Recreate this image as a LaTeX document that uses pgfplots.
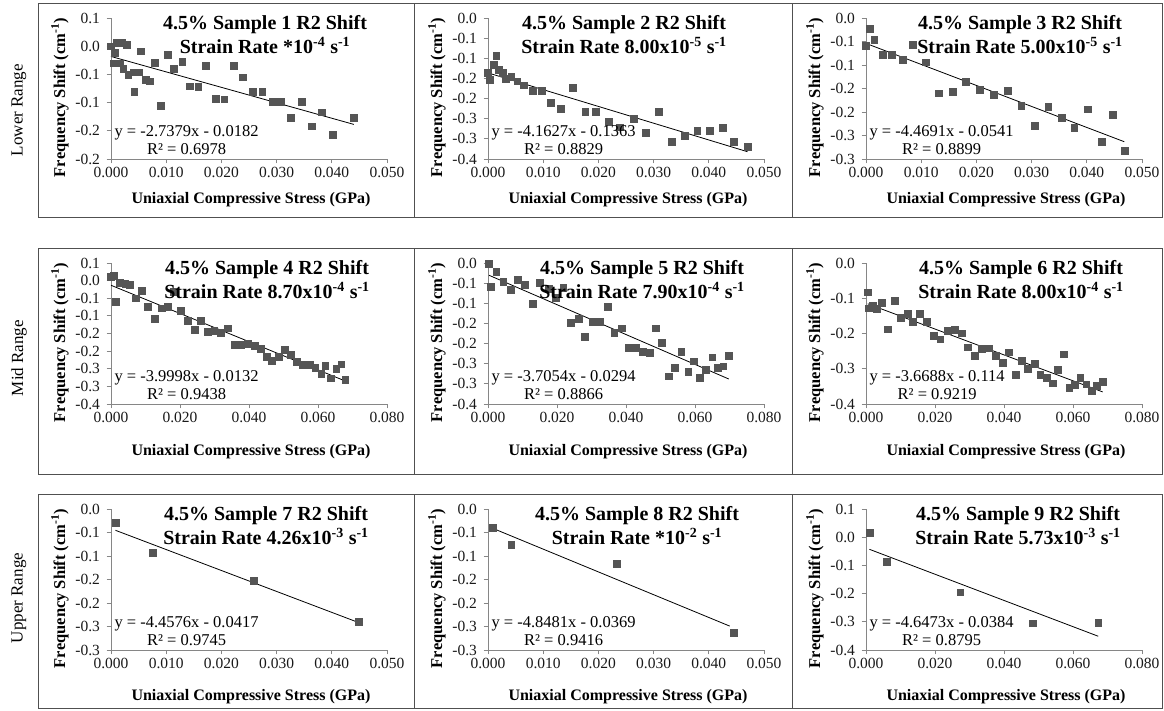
\documentclass[border=0pt]{standalone}
\usepackage{pgfplots}
\pgfplotsset{compat=1.18}
\usepackage{fontspec}
\setmainfont{Liberation Serif}
\definecolor{mk}{RGB}{85,85,85}
\definecolor{ax}{RGB}{134,134,134}
\definecolor{bd}{RGB}{80,80,80}
\newcommand{\fs}[2]{\fontsize{#1}{#2}\selectfont}
\pgfplotsset{
  panel/.style={
    at={(0pt,0pt)}, anchor=south west, scale only axis, width=276pt, height=141pt,
    axis lines=left, axis line style={-, draw=ax, line width=0.9pt},
    tick align=outside, major tick length=4.5pt, tick style={draw=ax, line width=0.9pt},
    clip=false, scaled ticks=false,
    ticklabel style={font=\fs{15.5}{17}, text=black!90},
    yticklabel style={xshift=-3pt},
    /pgf/number format/assume math mode=true,
  },
  x5/.style={xmin=0, xmax=0.05, xtick={0,0.01,0.02,0.03,0.04,0.05}, xticklabels={0.000,0.010,0.020,0.030,0.040,0.050}},
  x8/.style={xmin=0, xmax=0.08, xtick={0,0.02,0.04,0.06,0.08}, xticklabels={0.000,0.020,0.040,0.060,0.080}},
  pts/.style={only marks, mark=square*, mark size=3.4pt, mark options={draw=mk, fill=mk}},
  trend/.style={black, line width=0.8pt, no marks},
}
\newcommand{\deco}[6]{%
  \node[font=\bfseries\fs{20}{24}, align=center] at (#1,124) {4.5\% Sample #2 R2 Shift\\Strain Rate #3};
  \node[anchor=west, align=center, font=\fs{16.5}{18}] at (0,19) {#4\\R² = #5};
  \node[font=\bfseries\fs{16}{18}] at (140,#6) {Uniaxial Compressive Stress (GPa)};
  \node[font=\bfseries\fs{16.5}{18}, rotate=90] at (-51,61.5) {Frequency Shift (cm\textsuperscript{-1})};
}
\begin{document}
\begin{tikzpicture}[x=1pt,y=1pt]
\path[use as bounding box] (0,0) rectangle (1164,711);
% panel frames
\draw[bd, line width=1pt] (38,493) rectangle (1162,707) (414,493)--(414,707) (792,493)--(792,707);
\draw[bd, line width=1pt] (38,236) rectangle (1162,462) (414,236)--(414,462) (792,236)--(792,462);
\draw[bd, line width=1pt] (38,2) rectangle (1162,216) (414,2)--(414,216) (792,2)--(792,216);
\node[rotate=90, font=\fs{17}{18}] at (19,601) {Lower Range};
\node[rotate=90, font=\fs{17}{18}] at (19,353) {Mid Range};
\node[rotate=90, font=\fs{17}{18}] at (19,113) {Upper Range};

% ---------- Panel 1
\begin{scope}[shift={(111,552)}]
\begin{axis}[panel, x5, ymin=-0.2, ymax=0.05, ytick={-0.2,-0.15,-0.1,-0.05,0,0.05}, yticklabels={-0.2,-0.2,-0.1,-0.1,0.0,0.1}]
\addplot[pts] coordinates {(0,0.0) (0.0004,-0.030) (0.001,-0.030) (0.0011,0.0057) (0.0007,-0.012) (0.0019,0.0057) (0.0028,0.003) (0.0016,-0.030) (0.0022,-0.040) (0.0031,-0.050) (0.0042,-0.081) (0.0041,-0.046) (0.005,-0.046) (0.0054,-0.009) (0.0063,-0.059) (0.007,-0.062) (0.0079,-0.029) (0.009,-0.105) (0.0102,-0.015) (0.0114,-0.040) (0.0129,-0.027) (0.0142,-0.071) (0.0158,-0.072) (0.0172,-0.035) (0.0189,-0.093) (0.0205,-0.094) (0.0222,-0.035) (0.0238,-0.055) (0.0256,-0.081) (0.0274,-0.081) (0.0293,-0.099) (0.0308,-0.099) (0.0326,-0.127) (0.0345,-0.099) (0.0363,-0.142) (0.0381,-0.117) (0.0401,-0.157) (0.044,-0.127)};
\addplot[trend] coordinates {(0,-0.0182) (0.044,-0.1387)};
\end{axis}
\deco{154}{1}{*10\textsuperscript{-4} s\textsuperscript{-1}}{y = -2.7379x - 0.0182}{0.6978}{-41}
\end{scope}

% ---------- Panel 2
\begin{scope}[shift={(488,552)}]
\begin{axis}[panel, x5, ymin=-0.35, ymax=0, ytick={-0.35,-0.3,-0.25,-0.2,-0.15,-0.1,-0.05,0}, yticklabels={-0.4,-0.3,-0.3,-0.2,-0.2,-0.1,-0.1,0.0}]
\addplot[pts] coordinates {(0,-0.135) (0.0003,-0.153) (0.001,-0.116) (0.0015,-0.093) (0.002,-0.128) (0.0026,-0.135) (0.0032,-0.151) (0.0042,-0.145) (0.0053,-0.157) (0.0065,-0.167) (0.0081,-0.180) (0.0097,-0.180) (0.0113,-0.211) (0.0132,-0.226) (0.0153,-0.174) (0.0176,-0.232) (0.0195,-0.233) (0.0218,-0.258) (0.0239,-0.271) (0.0264,-0.250) (0.0286,-0.285) (0.0309,-0.233) (0.0333,-0.308) (0.0356,-0.292) (0.0379,-0.280) (0.0402,-0.280) (0.0425,-0.273) (0.0445,-0.308) (0.047,-0.320)};
\addplot[trend] coordinates {(0,-0.1363) (0.047,-0.3319)};
\end{axis}
\deco{136}{2}{8.00x10\textsuperscript{-5} s\textsuperscript{-1}}{y = -4.1627x - 0.1363}{0.8829}{-41}
\end{scope}

% ---------- Panel 3
\begin{scope}[shift={(866,552)}]
\begin{axis}[panel, x5, ymin=-0.3, ymax=0, ytick={-0.3,-0.25,-0.2,-0.15,-0.1,-0.05,0}, yticklabels={-0.3,-0.3,-0.2,-0.2,-0.1,-0.1,0.0}]
\addplot[pts] coordinates {(0,-0.059) (0.0006,-0.023) (0.0015,-0.046) (0.003,-0.078) (0.0047,-0.078) (0.0066,-0.089) (0.0085,-0.057) (0.0108,-0.094) (0.0132,-0.160) (0.0157,-0.157) (0.0181,-0.136) (0.0206,-0.152) (0.0232,-0.163) (0.0256,-0.154) (0.0281,-0.187) (0.0306,-0.229) (0.033,-0.189) (0.0354,-0.213) (0.0377,-0.234) (0.0401,-0.194) (0.0427,-0.264) (0.0447,-0.206) (0.0468,-0.282)};
\addplot[trend] coordinates {(0,-0.0541) (0.0468,-0.2633)};
\end{axis}
\deco{154}{3}{5.00x10\textsuperscript{-5} s\textsuperscript{-1}}{y = -4.4691x - 0.0541}{0.8899}{-41}
\end{scope}

% ---------- Panel 4
\begin{scope}[shift={(111,307)}]
\begin{axis}[panel, x8, ymin=-0.35, ymax=0.05, ytick={-0.35,-0.3,-0.25,-0.2,-0.15,-0.1,-0.05,0,0.05}, yticklabels={-0.4,-0.3,-0.3,-0.2,-0.2,-0.1,-0.1,0.0,0.1}]
\addplot[pts] coordinates {(0,0.010) (0.0007,0.014) (0.0014,-0.059) (0.0026,-0.007) (0.0041,-0.009) (0.0055,-0.012) (0.0072,-0.050) (0.0089,-0.029) (0.0106,-0.073) (0.0126,-0.108) (0.0147,-0.078) (0.0164,-0.073) (0.0181,-0.032) (0.0202,-0.085) (0.0222,-0.113) (0.0242,-0.140) (0.026,-0.113) (0.028,-0.144) (0.0299,-0.141) (0.0318,-0.147) (0.0338,-0.135) (0.0358,-0.182) (0.0377,-0.182) (0.0397,-0.179) (0.0416,-0.184) (0.0435,-0.194) (0.0452,-0.215) (0.0466,-0.227) (0.0486,-0.215) (0.0503,-0.195) (0.0521,-0.211) (0.0539,-0.230) (0.0556,-0.239) (0.0575,-0.239) (0.0592,-0.247) (0.0609,-0.263) (0.0621,-0.242) (0.0636,-0.277) (0.0653,-0.250) (0.0667,-0.237) (0.0679,-0.282)};
\addplot[trend] coordinates {(0,-0.0132) (0.0679,-0.2848)};
\end{axis}
\deco{156}{4}{8.70x10\textsuperscript{-4} s\textsuperscript{-1}}{y = -3.9998x - 0.0132}{0.9438}{-48}
\end{scope}

% ---------- Panel 5
\begin{scope}[shift={(488,307)}]
\begin{axis}[panel, x8, ymin=-0.35, ymax=0, ytick={-0.35,-0.3,-0.25,-0.2,-0.15,-0.1,-0.05,0}, yticklabels={-0.4,-0.3,-0.3,-0.2,-0.2,-0.1,-0.1,0.0}]
\addplot[pts] coordinates {(0.0003,-0.002) (0.0008,-0.058) (0.0024,-0.022) (0.0044,-0.047) (0.0065,-0.066) (0.0085,-0.041) (0.0107,-0.054) (0.0129,-0.101) (0.015,-0.049) (0.0175,-0.064) (0.0196,-0.086) (0.0218,-0.061) (0.024,-0.148) (0.0262,-0.139) (0.0281,-0.182) (0.0303,-0.145) (0.0323,-0.145) (0.0346,-0.109) (0.0366,-0.174) (0.0388,-0.162) (0.0407,-0.211) (0.0429,-0.211) (0.0448,-0.221) (0.0468,-0.223) (0.0487,-0.162) (0.0504,-0.197) (0.0524,-0.281) (0.0541,-0.260) (0.056,-0.221) (0.058,-0.270) (0.0596,-0.244) (0.0614,-0.285) (0.0632,-0.265) (0.065,-0.234) (0.0666,-0.260) (0.0682,-0.256) (0.0698,-0.231)};
\addplot[trend] coordinates {(0.0003,-0.0305) (0.0698,-0.2880)};
\end{axis}
\deco{154}{5}{7.90x10\textsuperscript{-4} s\textsuperscript{-1}}{y = -3.7054x - 0.0294}{0.8866}{-48}
\end{scope}

% ---------- Panel 6
\begin{scope}[shift={(866,307)}]
\begin{axis}[panel, x8, ymin=-0.4, ymax=0, ytick={-0.4,-0.3,-0.2,-0.1,0}, yticklabels={-0.4,-0.3,-0.2,-0.1,0.0}]
\addplot[pts] coordinates {(0.0005,-0.083) (0.0007,-0.128) (0.0019,-0.121) (0.0032,-0.130) (0.0046,-0.112) (0.0063,-0.188) (0.0082,-0.106) (0.01,-0.156) (0.0121,-0.144) (0.0135,-0.166) (0.0155,-0.144) (0.0176,-0.166) (0.0196,-0.206) (0.0215,-0.216) (0.0237,-0.192) (0.0256,-0.190) (0.0277,-0.199) (0.0295,-0.239) (0.0314,-0.264) (0.0335,-0.244) (0.0355,-0.242) (0.0375,-0.264) (0.0396,-0.282) (0.0414,-0.253) (0.0433,-0.316) (0.0451,-0.277) (0.0469,-0.299) (0.0488,-0.286) (0.0505,-0.316) (0.0524,-0.325) (0.0541,-0.341) (0.0556,-0.303) (0.0573,-0.259) (0.0589,-0.353) (0.0606,-0.346) (0.0621,-0.325) (0.0638,-0.344) (0.0654,-0.362) (0.0669,-0.348) (0.0686,-0.336)};
\addplot[trend] coordinates {(0.0005,-0.1158) (0.0686,-0.3657)};
\end{axis}
\deco{155}{6}{8.00x10\textsuperscript{-4} s\textsuperscript{-1}}{y = -3.6688x - 0.114}{0.9219}{-48}
\end{scope}

% ---------- Panel 7
\begin{scope}[shift={(111,61)}]
\begin{axis}[panel, x5, ymin=-0.3, ymax=0, ytick={-0.3,-0.25,-0.2,-0.15,-0.1,-0.05,0}, yticklabels={-0.3,-0.3,-0.2,-0.2,-0.1,-0.1,0.0}]
\addplot[pts] coordinates {(0.0008,-0.030) (0.0075,-0.093) (0.0259,-0.152) (0.0449,-0.240)};
\addplot[trend] coordinates {(0.0008,-0.0453) (0.0449,-0.2418)};
\end{axis}
\deco{155}{7}{4.26x10\textsuperscript{-3} s\textsuperscript{-1}}{y = -4.4576x - 0.0417}{0.9745}{-47}
\end{scope}

% ---------- Panel 8
\begin{scope}[shift={(488,61)}]
\begin{axis}[panel, x5, ymin=-0.3, ymax=0, ytick={-0.3,-0.25,-0.2,-0.15,-0.1,-0.05,0}, yticklabels={-0.3,-0.3,-0.2,-0.2,-0.1,-0.1,0.0}]
\addplot[pts] coordinates {(0.0009,-0.040) (0.0042,-0.076) (0.0233,-0.116) (0.0445,-0.263)};
\addplot[trend] coordinates {(0.0009,-0.0413) (0.0438,-0.2492)};
\end{axis}
\deco{149}{8}{*10\textsuperscript{-2} s\textsuperscript{-1}}{y = -4.8481x - 0.0369}{0.9416}{-47}
\end{scope}

% ---------- Panel 9
\begin{scope}[shift={(866,61)}]
\begin{axis}[panel, x8, ymin=-0.4, ymax=0.1, ytick={-0.4,-0.3,-0.2,-0.1,0,0.1}, yticklabels={-0.4,-0.3,-0.2,-0.1,0.0,0.1}]
\addplot[pts] coordinates {(0.001,0.015) (0.0061,-0.088) (0.0273,-0.195) (0.0483,-0.305) (0.0673,-0.302)};
\addplot[trend] coordinates {(0.001,-0.0430) (0.0673,-0.3512)};
\end{axis}
\deco{152}{9}{5.73x10\textsuperscript{-3} s\textsuperscript{-1}}{y = -4.6473x - 0.0384}{0.8795}{-47}
\end{scope}
\end{tikzpicture}
\end{document}
